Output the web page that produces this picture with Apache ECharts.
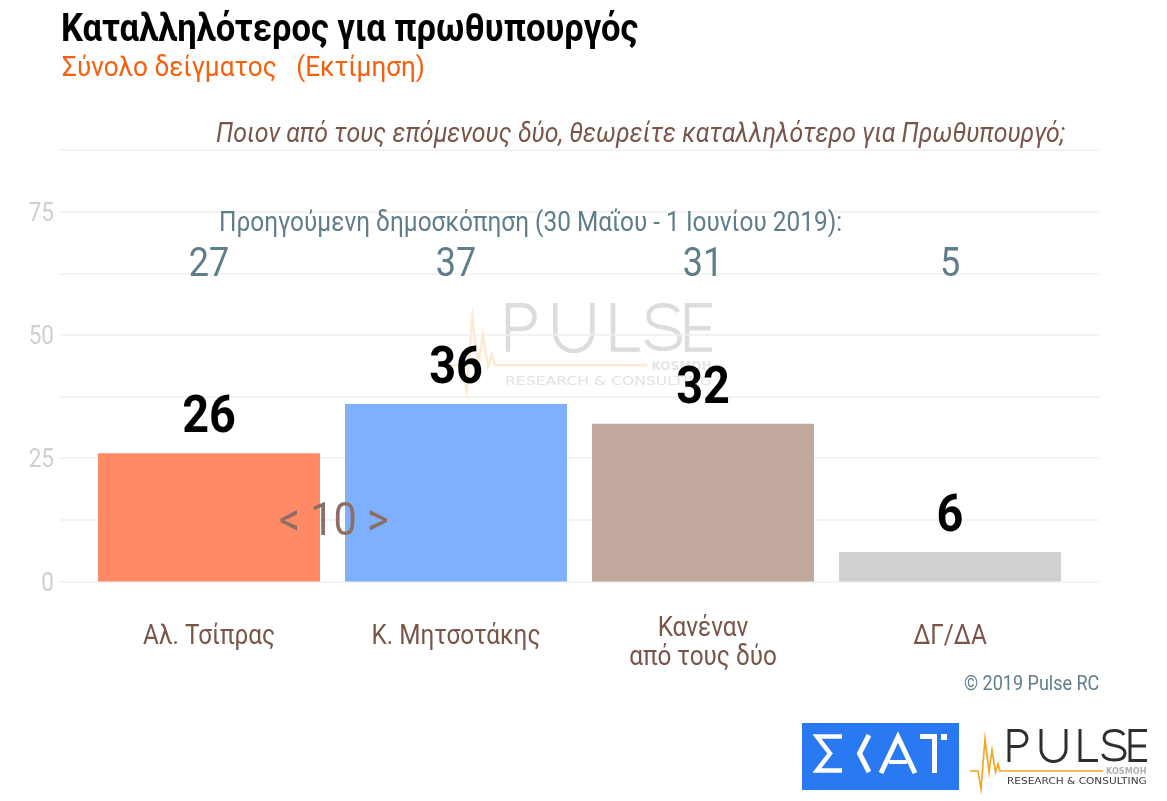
<!DOCTYPE html>
<html><head><meta charset="utf-8">
<style>html,body{margin:0;padding:0;background:#fff}#c{width:1167px;height:801px}</style>
<script src="https://cdn.jsdelivr.net/npm/echarts@6/dist/echarts.min.js"></script>
</head><body><div id="c"></div>
<script>
const categories = ['Αλ. Τσίπρας','Κ. Μητσοτάκης','Κανέναν\nαπό τους δύο','ΔΓ/ΔΑ'];
const currentValues = [26,36,32,6];
const previousValues = [27,37,31,5];
const barColors = ['#ff8a65','#7fb0ff','#c0a89c','#d0d0d0'];
const titleText = 'Καταλληλότερος για πρωθυπουργός';
const subtitleText = 'Σύνολο δείγματος   (Εκτίμηση)';
const questionText = 'Ποιον από τους επόμενους δύο, θεωρείτε καταλληλότερο για Πρωθυπουργό;';
const previousText = 'Προηγούμενη δημοσκόπηση (30 Μαΐου - 1 Ιουνίου 2019):';
const gapText = '< 10 >';
const creditText = '© 2019 Pulse RC';
const previousRowLevel = 64;
const FONT = 'Roboto,sans-serif';

// Roboto Condensed is not installed: narrow every text run around its anchor.
const CONDENSE = 0.9;
const baseFill = CanvasRenderingContext2D.prototype.fillText;
CanvasRenderingContext2D.prototype.fillText = function(t,x,y,m){
  this.save(); this.translate(x,y); this.scale(CONDENSE,1);
  baseFill.call(this,t,0,0); this.restore();
};

const chart = echarts.init(document.getElementById('c'), null, {renderer:'canvas'});

function logo(x, y, s, dark, org, kos, small){
  const W = 3;
  const L = (pts,c,w)=>({type:'polyline',shape:{points:pts},style:{stroke:c,lineWidth:w,fill:null,lineJoin:'miter'},silent:true});
  const A = (cx,cy,r,a,b,cw)=>({type:'arc',shape:{cx,cy,r,startAngle:a,endAngle:b,clockwise:cw},style:{stroke:dark,lineWidth:W,fill:null},silent:true});
  const B = (x1,y1,c1x,c1y,c2x,c2y,x2,y2)=>({type:'bezierCurve',silent:true,
    shape:{x1,y1,x2,y2,cpx1:c1x,cpy1:c1y,cpx2:c2x,cpy2:c2y},style:{stroke:dark,lineWidth:W,fill:null}});
  return {type:'group',x,y,scaleX:s,scaleY:s,silent:true,children:[
    L([[2,33],[2,1.5],[12,1.5]],dark,W),
    A(12,9.5,8,-Math.PI/2,Math.PI/2,true),
    L([[12,17.5],[2,17.5]],dark,W),
    L([[34,0],[34,20]],dark,W),
    A(46.5,20,12.5,Math.PI,0,false),
    L([[59,20],[59,0]],dark,W),
    L([[73,0],[73,31.5],[91,31.5]],dark,W),
    B(117,6,115,2.5,111,1.5,107,1.5),
    B(107,1.5,100,1.5,97,5,97,9),
    B(97,9,97,14,101,15.5,107,16.5),
    B(107,16.5,113,17.5,118,19,118,24),
    B(118,24,118,28.5,114,31,107,31),
    B(107,31,101,31,97,29,95.5,25),
    L([[140,1.5],[123,1.5],[123,31.5],[140,31.5]],dark,W),
    L([[123,17],[139,17]],dark,W),
    L([[-37,42],[-29,42],[-26,60],[-22,10],[-18,43],[-15,21],[-11.5,43],[-9,35],[-7,42],[96,42]],org,1.7),
    {type:'text',x:99,y:39,scaleX:1.13,silent:true,style:{text:'KOSMOH',font:'bold 8px "DejaVu Sans",sans-serif',fill:kos}},
    {type:'text',x:0,y:49,scaleX:1.466,silent:true,style:{text:'RESEARCH & CONSULTING',font:'8px "DejaVu Sans",sans-serif',fill:small}}
  ]};
}
function skat(){
  const L = (pts,w)=>({type:'polyline',shape:{points:pts},style:{stroke:'#fff',lineWidth:w,fill:null,lineJoin:'miter'},silent:true});
  const R = (x,y,w,h)=>({type:'rect',shape:{x,y,width:w,height:h},style:{fill:'#fff'},silent:true});
  return {type:'group',silent:true,children:[
    {type:'rect',shape:{x:802,y:723,width:157,height:67},style:{fill:'#2979f2'},silent:true},
    L([[842,736.5],[817,736.5],[830,753.5],[817,770.5],[842,770.5]],4.5),
    L([[869,735],[859.5,753.5],[869,772]],5),
    L([[881,773],[898,737],[915,773]],5),
    L([[889,762],[907,762]],4),
    R(920,734,16,5), R(932,734,5,39), R(941,734,6,6)
  ]};
}
function txt(x,y,text,font,fill,scaleX,z){
  return {type:'text',x,y,scaleX:scaleX||1,z:z||5,silent:true,
    style:{text,font,fill,verticalAlign:'middle',align:'left'}};
}

chart.setOption({
  animation:false,
  backgroundColor:'#fff',
  grid:[
    {left:60,right:68,top:150,height:431.5},
    {left:85.5,width:988,top:150,height:431.5}
  ],
  xAxis:[
    {type:'category',gridIndex:0,data:categories,show:false},
    {type:'category',gridIndex:1,data:categories,
      axisLine:{show:false},axisTick:{show:false},
      axisLabel:{color:'#795548',fontSize:27,fontFamily:FONT,lineHeight:29,margin:62,interval:0,
        verticalAlign:'middle',
        formatter:v=>v.includes('\n')?v:'{s|'+v+'}',
        rich:{s:{color:'#795548',fontSize:27,fontFamily:FONT,lineHeight:29,padding:[0,0,12,0]}}}}
  ],
  yAxis:[
    {type:'value',gridIndex:0,min:0,max:87.5,interval:12.5,
      axisLine:{show:false},axisTick:{show:false},
      axisLabel:{color:'#cfcfcf',fontSize:25,fontFamily:FONT,margin:6,verticalAlign:'middle',
        formatter:v=>v%25===0?'{n|'+v+'}':'',
        rich:{n:{color:'#cfcfcf',fontSize:25,fontFamily:FONT,padding:[6,0,0,0]}}},
      splitLine:{lineStyle:{color:'#efefef',width:1.5}}},
    {type:'value',gridIndex:1,min:0,max:87.5,show:false}
  ],
  series:[
    {type:'bar',xAxisIndex:1,yAxisIndex:1,barWidth:222,z:3,
      data:currentValues.map((v,i)=>({value:v,itemStyle:{color:barColors[i]}})),
      label:{show:true,position:'top',distance:8,color:'#000',fontWeight:'bold',fontSize:52,fontFamily:FONT}},
    {type:'scatter',xAxisIndex:1,yAxisIndex:1,symbolSize:0,z:4,itemStyle:{opacity:1},
      data:previousValues.map((v,i)=>[i,previousRowLevel,v]),
      label:{show:true,position:'inside',formatter:p=>String(p.data[2]),color:'#607d8b',opacity:1,fontSize:40,fontFamily:FONT}}
  ],
  graphic:[
    Object.assign(logo(505,303,1.48,'#dcdcdc','#fdeacf','#e6e6e6','#e2e2e2'),{z:1}),
    skat(),
    logo(1007,729,1,'#2e2e2e','#f5a623','#b0b0b0','#3a3a3a'),
    txt(61,31,titleText,'bold 38px '+FONT,'#000',1.01),
    txt(62,69,subtitleText,'27px '+FONT,'#f4600c',1.075),
    txt(216,135,questionText,'italic 27px '+FONT,'#795548',1.024),
    txt(219,224,previousText,'27px '+FONT,'#607d8b',1.005),
    txt(279,523,gapText,'46px '+FONT,'#8d6e63',1,20),
    txt(964,685,creditText,'20px '+FONT,'#607d8b',1)
  ]
});
</script></body></html>
